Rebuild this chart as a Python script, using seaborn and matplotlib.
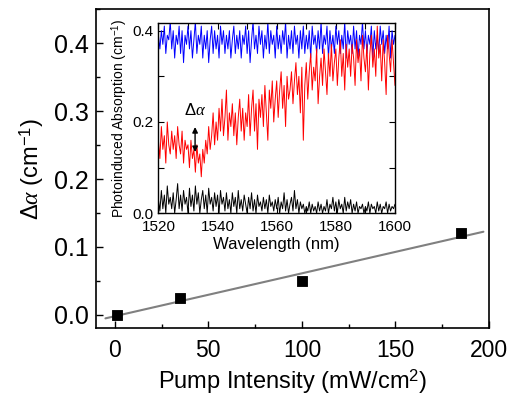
import numpy as np
import pandas as pd
import matplotlib
matplotlib.use("Agg")
import matplotlib.pyplot as plt
from matplotlib.ticker import MultipleLocator, FormatStrFormatter
import seaborn as sns

sns.set_style("ticks")
plt.rcParams["font.family"] = ["Liberation Sans", "DejaVu Sans"]
plt.rcParams["mathtext.fontset"] = "custom"
plt.rcParams["mathtext.rm"] = "Liberation Sans"
plt.rcParams["mathtext.it"] = "Liberation Serif:italic"
for k in ["text.color", "axes.labelcolor", "xtick.color", "ytick.color", "axes.edgecolor"]:
    plt.rcParams[k] = "black"

# Main panel: induced absorption change vs pump intensity
pump = [1, 35, 100, 185]
dalpha = [0.0, 0.025, 0.05, 0.12]
fit_range = [-5, 197]

# Inset: photoinduced absorption spectra (0.5 nm steps, 1520-1600 nm)
wl_start, wl_stop = 1520, 1600
blue = [0.39, 0.36, 0.40, 0.37, 0.41, 0.35, 0.39, 0.38, 0.42, 0.36,
        0.40, 0.34, 0.39, 0.37, 0.41, 0.35, 0.40, 0.33, 0.39, 0.37,
        0.41, 0.36, 0.40, 0.34, 0.38, 0.42, 0.35, 0.39, 0.37, 0.41,
        0.34, 0.39, 0.36, 0.40, 0.33, 0.38, 0.41, 0.35, 0.40, 0.36,
        0.39, 0.34, 0.41, 0.37, 0.40, 0.35, 0.39, 0.36, 0.40, 0.34,
        0.38, 0.41, 0.35, 0.39, 0.36, 0.40, 0.34, 0.39, 0.37, 0.41,
        0.35, 0.40, 0.33, 0.38, 0.42, 0.36, 0.39, 0.35, 0.41, 0.37,
        0.40, 0.34, 0.39, 0.36, 0.42, 0.35, 0.40, 0.37, 0.39, 0.34,
        0.41, 0.36, 0.39, 0.35, 0.40, 0.37, 0.42, 0.34, 0.39, 0.36,
        0.40, 0.35, 0.41, 0.37, 0.39, 0.34, 0.40, 0.36, 0.41, 0.35,
        0.39, 0.36, 0.40, 0.34, 0.41, 0.37, 0.39, 0.35, 0.40, 0.36,
        0.42, 0.35, 0.39, 0.37, 0.41, 0.34, 0.40, 0.36, 0.39, 0.35,
        0.41, 0.37, 0.40, 0.35, 0.39, 0.36, 0.42, 0.34, 0.40, 0.37,
        0.39, 0.35, 0.41, 0.36, 0.40, 0.34, 0.39, 0.37, 0.42, 0.36,
        0.40, 0.35, 0.39, 0.37, 0.41, 0.34, 0.40, 0.36, 0.39, 0.35,
        0.41, 0.37, 0.40, 0.35, 0.39, 0.36, 0.41, 0.34, 0.40, 0.37,
        0.39]
red = [0.16, 0.12, 0.19, 0.14, 0.17, 0.11, 0.20, 0.15, 0.13, 0.18,
       0.14, 0.17, 0.12, 0.19, 0.15, 0.13, 0.18, 0.11, 0.16, 0.14,
       0.15, 0.10, 0.16, 0.12, 0.14, 0.09, 0.15, 0.11, 0.13, 0.08,
       0.14, 0.11, 0.16, 0.13, 0.19, 0.14, 0.17, 0.22, 0.15, 0.20,
       0.16, 0.23, 0.18, 0.25, 0.17, 0.21, 0.27, 0.16, 0.22, 0.19,
       0.24, 0.17, 0.22, 0.15, 0.21, 0.25, 0.18, 0.23, 0.16, 0.22,
       0.19, 0.26, 0.17, 0.23, 0.27, 0.18, 0.24, 0.14, 0.25, 0.21,
       0.26, 0.19, 0.28, 0.22, 0.16, 0.27, 0.23, 0.29, 0.20, 0.25,
       0.29, 0.21, 0.27, 0.31, 0.23, 0.28, 0.19, 0.30, 0.25, 0.27,
       0.31, 0.24, 0.29, 0.33, 0.26, 0.30, 0.22, 0.32, 0.16, 0.28,
       0.33, 0.25, 0.31, 0.35, 0.27, 0.32, 0.29, 0.36, 0.24, 0.30,
       0.34, 0.28, 0.36, 0.31, 0.26, 0.35, 0.30, 0.37, 0.29, 0.33,
       0.36, 0.28, 0.34, 0.38, 0.30, 0.35, 0.27, 0.37, 0.32, 0.36,
       0.30, 0.37, 0.34, 0.28, 0.38, 0.33, 0.36, 0.29, 0.39, 0.34,
       0.31, 0.37, 0.27, 0.35, 0.39, 0.32, 0.36, 0.30, 0.41, 0.34,
       0.37, 0.29, 0.38, 0.33, 0.26, 0.39, 0.35, 0.31, 0.38, 0.33,
       0.28]
black = [0.03, 0.005, 0.05, 0.01, 0.04, 0.00, 0.06, 0.02, 0.035, 0.01,
         0.045, 0.00, 0.03, 0.065, 0.01, 0.04, 0.005, 0.05, 0.02, 0.035,
         0.00, 0.055, 0.015, 0.04, 0.005, 0.06, 0.02, 0.045, 0.00, 0.03,
         0.05, 0.01, 0.04, 0.00, 0.055, 0.02, 0.035, 0.005, 0.045, 0.015,
         0.04, 0.00, 0.05, 0.02, 0.035, 0.005, 0.045, 0.01, 0.03, 0.00,
         0.045, 0.015, 0.035, 0.00, 0.05, 0.01, 0.03, 0.005, 0.04, 0.02,
         0.00, 0.035, 0.01, 0.045, 0.005, 0.03, 0.00, 0.04, 0.015, 0.025,
         0.005, 0.035, 0.01, 0.03, 0.00, 0.04, 0.015, 0.025, 0.005, 0.03,
         0.01, 0.035, 0.00, 0.025, 0.01, 0.045, 0.005, 0.03, 0.00, 0.02,
         0.035, 0.005, 0.05, 0.01, 0.03, 0.00, 0.025, 0.01, 0.02, 0.00,
         0.015, 0.005, 0.025, 0.00, 0.02, 0.005, 0.015, 0.00, 0.025, 0.005,
         0.02, 0.00, 0.015, 0.005, 0.03, 0.00, 0.02, 0.01, 0.035, 0.005,
         0.025, 0.00, 0.03, 0.01, 0.02, 0.00, 0.035, 0.005, 0.025, 0.01,
         0.03, 0.00, 0.02, 0.005, 0.025, 0.00, 0.015, 0.01, 0.02, 0.00,
         0.015, 0.005, 0.025, 0.00, 0.02, 0.01, 0.015, 0.00, 0.025, 0.005,
         0.02, 0.00, 0.015, 0.01, 0.025, 0.00, 0.02, 0.005, 0.015, 0.01,
         0.02]

wl = np.linspace(wl_start, wl_stop, len(red))
spec = pd.DataFrame({"wl": wl, "blue": blue, "red": red, "black": black})

fig = plt.figure(figsize=(5.11, 3.95), dpi=100)
ax = fig.add_axes([0.188, 0.170, 0.769, 0.807])

# linear fit
slope, icpt = np.polyfit(pump, dalpha, 1)
fit_x = np.array(fit_range)
sns.lineplot(x=fit_x, y=slope * fit_x + icpt, ax=ax, color="#808080", lw=1.5)
sns.scatterplot(x=pump, y=dalpha, ax=ax, marker="s", s=60, color="black",
                edgecolor="black", zorder=3)

ax.set_xlim(-10, 200)
ax.set_ylim(-0.019, 0.45)
ax.xaxis.set_major_locator(MultipleLocator(50))
ax.xaxis.set_minor_locator(MultipleLocator(25))
ax.yaxis.set_major_locator(MultipleLocator(0.1))
ax.yaxis.set_minor_locator(MultipleLocator(0.05))
ax.yaxis.set_major_formatter(FormatStrFormatter("%.1f"))
ax.tick_params(which="both", direction="in", top=False, right=False, width=1)
ax.tick_params(which="major", length=5)
ax.tick_params(which="minor", length=3)
ax.tick_params(axis="x", labelsize=16.5, pad=8)
ax.tick_params(axis="y", labelsize=18, pad=5)
for sp in ax.spines.values():
    sp.set_linewidth(1.2)
ax.set_xlabel("Pump Intensity (mW/cm$^{2}$)", fontsize=17, labelpad=4)
ax.set_ylabel(r"$\mathit{\Delta\alpha}$ (cm$^{-1}$)", fontsize=17, labelpad=6)

# inset
ins = fig.add_axes([0.310, 0.460, 0.463, 0.482])
sns.lineplot(data=spec, x="wl", y="blue", ax=ins, color="blue", lw=0.7,
             sort=False, estimator=None)
sns.lineplot(data=spec, x="wl", y="red", ax=ins, color="red", lw=0.7,
             sort=False, estimator=None)
sns.lineplot(data=spec, x="wl", y="black", ax=ins, color="black", lw=0.7,
             sort=False, estimator=None)
ins.set_xlim(1520, 1600)
ins.set_ylim(0, 0.417)
ins.xaxis.set_major_locator(MultipleLocator(20))
ins.xaxis.set_minor_locator(MultipleLocator(10))
ins.yaxis.set_major_locator(MultipleLocator(0.2))
ins.yaxis.set_minor_locator(MultipleLocator(0.1))
ins.yaxis.set_major_formatter(FormatStrFormatter("%.1f"))
ins.tick_params(which="both", direction="in", top=True, right=True, width=0.8)
ins.tick_params(which="major", length=4, labelsize=11)
ins.tick_params(which="minor", length=4)
ins.tick_params(axis="x", pad=5)
for sp in ins.spines.values():
    sp.set_linewidth(1.0)
ins.set_xlabel("Wavelength (nm)", fontsize=12, labelpad=2)
ins.set_ylabel("Photoinduced Absorption (cm$^{-1}$)", fontsize=10, labelpad=2)

ins.annotate("", xy=(1532.4, 0.128), xytext=(1532.4, 0.195),
             arrowprops=dict(arrowstyle="<|-|>", color="black", lw=1,
                             mutation_scale=8))
ins.text(1532.4, 0.208, r"$\mathit{\Delta\alpha}$", ha="center", va="bottom",
         fontsize=12)

fig.savefig("out.png", dpi=100)
